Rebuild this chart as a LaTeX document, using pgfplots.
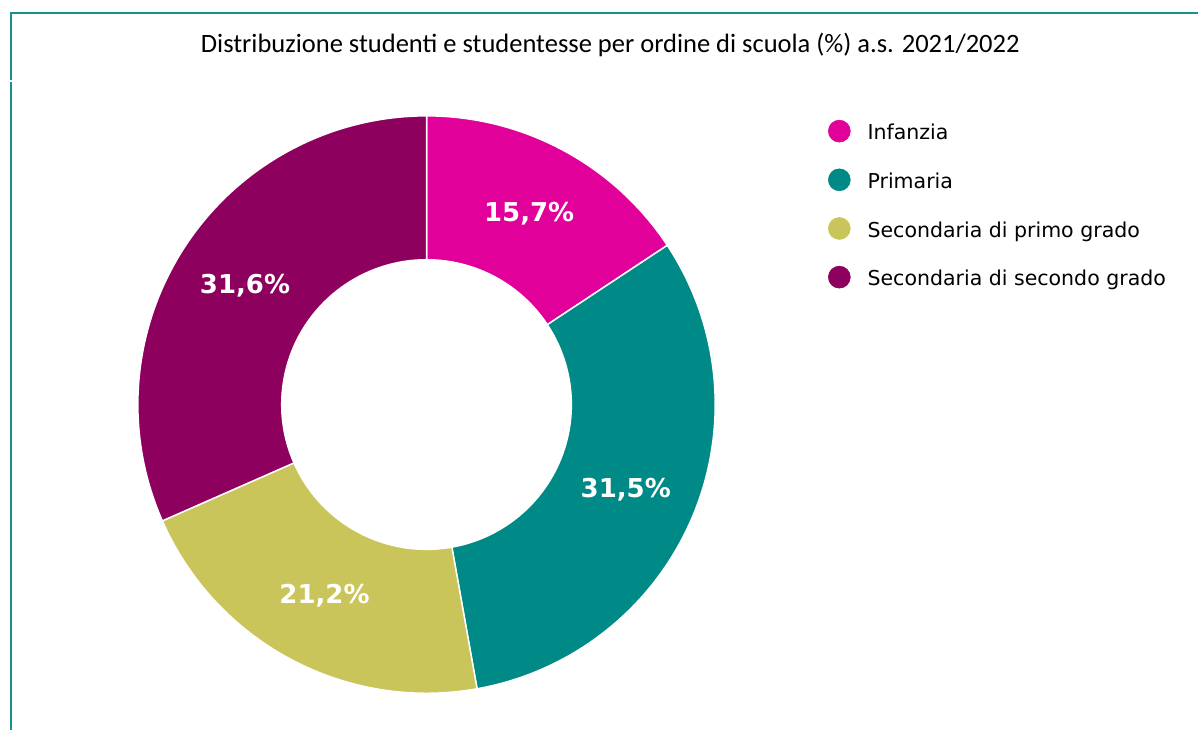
\documentclass[border=0pt]{standalone}
\usepackage{pgfplots}
\pgfplotsset{compat=1.18}
\usepackage{pgfplotstable}
\usepackage{fontspec}
\setmainfont{DejaVu Sans}
\newfontfamily\titlefont{Carlito}
\usetikzlibrary{calc}
\definecolor{cInf}{HTML}{E2009A}
\definecolor{cPri}{HTML}{008A87}
\definecolor{cSecA}{HTML}{C9C55A}
\definecolor{cSecB}{HTML}{8E005E}
\definecolor{frame}{HTML}{17928E}

\pgfplotstableread[col sep=comma]{
label,value,color
Infanzia,15.7,cInf
Primaria,31.5,cPri
Secondaria di primo grado,21.2,cSecA
Secondaria di secondo grado,31.6,cSecB
}\donut

\begin{document}
\begin{tikzpicture}
\begin{axis}[
  scale only axis, width=899.25pt, height=548.25pt,
  xmin=0, xmax=1199, ymin=0, ymax=731,
  hide axis, clip=false,
  legend style={at={(axis cs:829,611)}, anchor=north west, draw=none, fill=none,
    inner sep=0pt, outer sep=0pt,
    font=\fontsize{15.4}{18}\selectfont, row sep=17.6pt, column sep=12.75pt,
    nodes={inner sep=0pt, outer sep=0pt, text height=11pt, text depth=4pt}},
  legend cell align=left,
  legend image code/.code={\fill[#1] (0pt,0.3em) circle (8.25pt);},
]
\addlegendimage{cInf}\addlegendentry{Infanzia}
\addlegendimage{cPri}\addlegendentry{Primaria}
\addlegendimage{cSecA}\addlegendentry{Secondaria di primo grado}
\addlegendimage{cSecB}\addlegendentry{Secondaria di secondo grado}

\pgfplotsextra{
  \path (axis cs:0,0) (axis cs:1199,731);
  \xdef\cum{0}
  \foreach \i in {0,...,3}{
    \pgfplotstablegetelem{\i}{value}\of\donut \let\val\pgfplotsretval
    \pgfplotstablegetelem{\i}{color}\of\donut \let\col\pgfplotsretval
    \pgfmathsetmacro\aS{90-3.6*\cum}
    \pgfmathsetmacro\aE{90-3.6*(\cum+\val)}
    \pgfmathsetmacro\aM{(\aS+\aE)/2}
    \fill[\col, draw=white, line width=1.1pt]
      ($(axis cs:427,326)+(\aS:216.75pt)$) arc[start angle=\aS, end angle=\aE, radius=216.75pt]
      -- ($(axis cs:427,326)+(\aE:108.75pt)$) arc[start angle=\aE, end angle=\aS, radius=108.75pt]
      -- cycle;
    \node[white, font=\fontsize{19.5}{23}\selectfont\bfseries] at ($(axis cs:427,326)+(\aM:162.75pt)$)
      {\pgfmathprintnumber[fixed, fixed zerofill, precision=1, use comma, assume math mode=true]{\val}\%};
    \pgfmathsetmacro\newcum{\cum+\val}
    \xdef\cum{\newcum}
  }
  \draw[frame, line width=2pt] (axis cs:10,718) -- (axis cs:1199,718);
  \draw[frame, line width=2pt] (axis cs:11,718) -- (axis cs:11,651);
  \draw[frame, line width=2pt] (axis cs:11,649) -- (axis cs:11,0);
  \node[font=\titlefont\fontsize{19.9}{24}\selectfont, anchor=base] at (axis cs:611,678)
    {Distribuzione studenti e studentesse per ordine di scuola (\%) a.s. 2021/2022};
}
\end{axis}
\end{tikzpicture}
\end{document}
